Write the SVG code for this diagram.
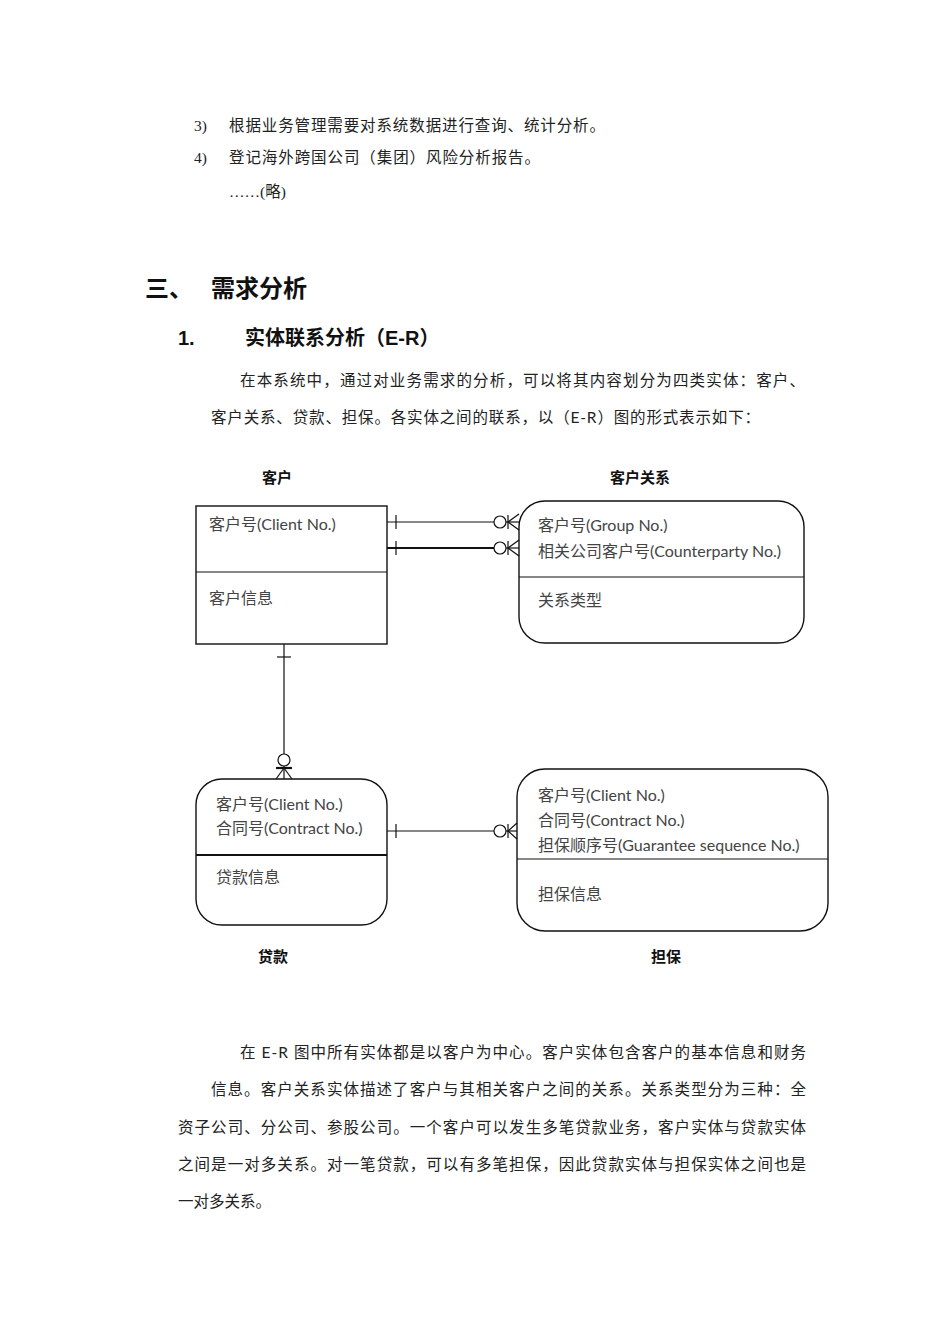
<svg xmlns="http://www.w3.org/2000/svg" width="950" height="1344" viewBox="0 0 950 1344">
<style>
.body{font-family:"Liberation Serif","Noto Sans CJK SC",serif;font-size:15.5px;fill:#222}
.sans{font-family:"Lato","Noto Sans CJK SC",sans-serif}
.h1{font-family:"Liberation Sans","Noto Sans CJK SC",sans-serif;font-size:24px;font-weight:bold;fill:#111}
.h2{font-family:"Liberation Sans","Noto Sans CJK SC",sans-serif;font-size:20px;font-weight:bold;fill:#111}
.lbl{font-family:"Noto Sans CJK SC",sans-serif;font-size:15px;font-weight:bold;fill:#111}
.ent{font-family:"Lato","Noto Sans CJK SC",sans-serif;font-size:16px;fill:#444}
.box{fill:#fff;stroke:#111;stroke-width:1.4}
.ln{stroke:#111;stroke-width:1.2;fill:none}
.thk{stroke:#111;stroke-width:2.2;fill:none}
</style>
<rect width="950" height="1344" fill="#fff"/>
<g id="intro">
<text class="body" x="194" y="131">3)</text>
<text class="body" x="229" y="131" textLength="376" lengthAdjust="spacing">根据业务管理需要对系统数据进行查询、统计分析。</text>
<text class="body" x="194" y="163">4)</text>
<text class="body" x="229" y="163" textLength="311" lengthAdjust="spacing">登记海外跨国公司（集团）风险分析报告。</text>
<text class="body" x="229" y="197">……(略)</text>
<text class="h1" x="145" y="297">三、</text>
<text class="h1" x="211" y="297">需求分析</text>
<text class="h2" x="178" y="345">1.</text>
<text class="h2" x="245" y="345">实体联系分析（E-R）</text>
<text class="body" x="240" y="386" textLength="565" lengthAdjust="spacing">在本系统中，通过对业务需求的分析，可以将其内容划分为四类实体：客户、</text>
<text class="body" x="211" y="423" textLength="549" lengthAdjust="spacing">客户关系、贷款、担保。各实体之间的联系，以（<tspan class="sans">E-R</tspan>）图的形式表示如下：</text>
</g>
<g id="customer">
<text class="lbl" x="277" y="483" text-anchor="middle">客户</text>
<rect class="box" x="196" y="506" width="191" height="138"/>
<line class="ln" x1="196" y1="572" x2="387" y2="572"/>
<text class="ent" x="209" y="530">客户号(Client No.)</text>
<text class="ent" x="209" y="604">客户信息</text>
</g>
<g id="relation">
<text class="lbl" x="640" y="483" text-anchor="middle">客户关系</text>
<rect class="box" x="519" y="501" width="285" height="142" rx="26" ry="26"/>
<line class="ln" x1="519" y1="577" x2="804" y2="577"/>
<text class="ent" x="538" y="531">客户号(Group No.)</text>
<text class="ent" x="538" y="557">相关公司客户号(Counterparty No.)</text>
<text class="ent" x="538" y="606">关系类型</text>
</g>
<g id="loan">
<rect class="box" x="196" y="779" width="191" height="146" rx="26" ry="26"/>
<line class="thk" x1="196" y1="855" x2="387" y2="855"/>
<text class="ent" x="216" y="810">客户号(Client No.)</text>
<text class="ent" x="216" y="834">合同号(Contract No.)</text>
<text class="ent" x="216" y="883">贷款信息</text>
<text class="lbl" x="273" y="962" text-anchor="middle">贷款</text>
</g>
<g id="guarantee">
<rect class="box" x="517" y="769" width="311" height="162" rx="28" ry="28"/>
<line class="ln" x1="517" y1="859" x2="828" y2="859"/>
<text class="ent" x="538" y="801">客户号(Client No.)</text>
<text class="ent" x="538" y="826">合同号(Contract No.)</text>
<text class="ent" x="538" y="851">担保顺序号(Guarantee sequence No.)</text>
<text class="ent" x="538" y="900">担保信息</text>
<text class="lbl" x="666" y="962" text-anchor="middle">担保</text>
</g>
<g id="connectors">
<line class="ln" x1="387" y1="522" x2="494" y2="522"/>
<line class="ln" x1="396" y1="515" x2="396" y2="529"/>
<circle class="ln" cx="500" cy="522" r="6"/>
<line class="ln" x1="506" y1="522" x2="519" y2="522"/>
<line class="ln" x1="508" y1="515" x2="508" y2="529"/>
<line class="ln" x1="508" y1="522" x2="519" y2="514"/>
<line class="ln" x1="508" y1="522" x2="519" y2="530"/>
<line class="thk" x1="387" y1="548" x2="494" y2="548"/>
<line class="ln" x1="396" y1="541" x2="396" y2="555"/>
<circle class="ln" cx="500" cy="548" r="6"/>
<line class="ln" x1="506" y1="548" x2="519" y2="548"/>
<line class="ln" x1="508" y1="541" x2="508" y2="555"/>
<line class="ln" x1="508" y1="548" x2="519" y2="540"/>
<line class="ln" x1="508" y1="548" x2="519" y2="556"/>
<line class="ln" x1="284" y1="644" x2="284" y2="754"/>
<line class="ln" x1="277" y1="657" x2="291" y2="657"/>
<circle class="ln" cx="284" cy="760" r="6"/>
<line class="ln" x1="284" y1="766" x2="284" y2="779"/>
<line class="thk" x1="276" y1="768" x2="292" y2="768"/>
<line class="ln" x1="284" y1="768" x2="276" y2="779"/>
<line class="ln" x1="284" y1="768" x2="292" y2="779"/>
<line class="ln" x1="387" y1="831" x2="494" y2="831"/>
<line class="ln" x1="396" y1="824" x2="396" y2="838"/>
<circle class="ln" cx="500" cy="831" r="6"/>
<line class="ln" x1="506" y1="831" x2="517" y2="831"/>
<line class="ln" x1="508" y1="824" x2="508" y2="838"/>
<line class="ln" x1="508" y1="831" x2="517" y2="823"/>
<line class="ln" x1="508" y1="831" x2="517" y2="839"/>
</g>
<g id="summary">
<text class="body" x="240" y="1058" textLength="566" lengthAdjust="spacing">在 <tspan class="sans">E-R</tspan> 图中所有实体都是以客户为中心。客户实体包含客户的基本信息和财务</text>
<text class="body" x="211" y="1095" textLength="595" lengthAdjust="spacing">信息。客户关系实体描述了客户与其相关客户之间的关系。关系类型分为三种：全</text>
<text class="body" x="178" y="1133" textLength="628" lengthAdjust="spacing">资子公司、分公司、参股公司。一个客户可以发生多笔贷款业务，客户实体与贷款实体</text>
<text class="body" x="178" y="1170" textLength="628" lengthAdjust="spacing">之间是一对多关系。对一笔贷款，可以有多笔担保，因此贷款实体与担保实体之间也是</text>
<text class="body" x="178" y="1207">一对多关系。</text>
</g>
</svg>
